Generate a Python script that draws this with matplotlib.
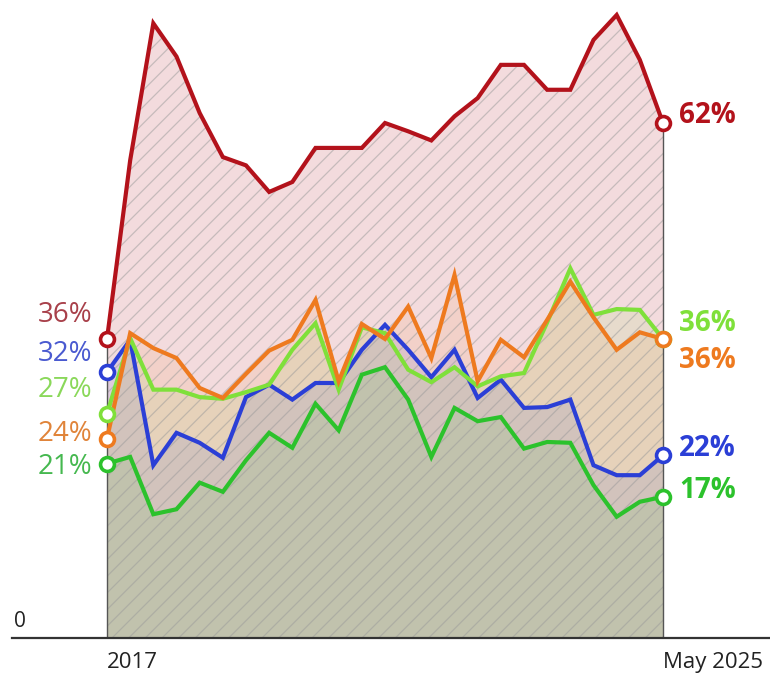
import matplotlib
matplotlib.use("Agg")
import matplotlib.pyplot as plt
import numpy as np

plt.rcParams["font.family"] = ["Open Sans", "DejaVu Sans"]
plt.rcParams["hatch.color"] = "#9a9a9a"
plt.rcParams["hatch.linewidth"] = 0.9

# survey readings, 2017 .. May 2025 (25 readings)
n_points = 25
red = [36, 57.5, 74, 70, 63.2, 57.9, 56.9, 53.7, 54.9, 59, 59, 59, 62, 61, 59.9,
       62.8, 65, 69, 69, 66, 66, 72, 75, 69.6, 62]
orange = [24, 36.7, 34.9, 33.7, 30.1, 28.9, 31.8, 34.6, 35.9, 40.7, 30.9, 37.8, 36,
          39.9, 33.7, 43.7, 30.9, 35.9, 33.8, 38.3, 42.9, 38.6, 34.7, 36.8, 36]
lime = [27, 36.1, 29.9, 29.9, 29.0, 28.8, 29.6, 30.5, 34.7, 37.9, 29.9, 37.4, 36.7,
        32.3, 30.8, 32.6, 30.3, 31.5, 31.9, 38.0, 44.5, 38.9, 39.6, 39.5, 36]
blue = [32, 35.9, 20.8, 24.7, 23.5, 21.7, 29.0, 30.5, 28.7, 30.7, 30.7, 34.7, 37.7,
        34.7, 31.4, 34.7, 28.9, 31.1, 27.7, 27.8, 28.7, 20.8, 19.6, 19.6, 22]
green = [21, 21.8, 14.9, 15.5, 18.7, 17.6, 21.4, 24.7, 22.9, 28.2, 25.0, 31.7, 32.6,
         28.7, 21.8, 27.7, 26.1, 26.6, 22.8, 23.6, 23.5, 18.4, 14.6, 16.4, 17]

x_labels = ["2017", "May 2025"]

series = [
    # values, line colour, left label colour, left label y offset, right offset, z
    (red, "#b3121b", "#a8404a", 2.9, 0.9, 5),
    (orange, "#ee7a1f", "#e0843a", 0.5, -2.6, 4),
    (lime, "#7fe03a", "#8ad85a", 2.9, 1.9, 3),
    (blue, "#2b3fd6", "#4a5ad0", 2.2, 0.8, 2),
    (green, "#2cc22c", "#45b84f", -0.4, 0.8, 1),
]

fig = plt.figure(figsize=(7.7, 6.82), dpi=100)
ax = fig.add_axes([0, 0, 1, 1])
px_x = 556 / 24
px_y = 515 / 62
ax.set_xlim(-107 / px_x, 24 + 107 / px_x)
ax.set_ylim(-44 / px_y, 638 / px_y)
ax.axis("off")

x = np.arange(n_points)

# shaded areas
ax.fill_between(x, 0, red, color="#b3121b", alpha=0.15, lw=0, zorder=1)
for vals, col, _, _, _, _ in series[1:]:
    ax.fill_between(x, 0, vals, color=col, alpha=0.10, lw=0, zorder=1)
ax.fill_between(x, 0, red, facecolor="none", edgecolor="#9a9a9a", hatch="//",
                lw=0, alpha=0.5, zorder=2)

ax.vlines([0, n_points - 1], 0, [red[0], red[-1]], color="#555555", lw=1.0, zorder=2)
ax.plot([-95 / px_x, 24 + 107 / px_x], [0, 0], color="#333333", lw=1.6,
        zorder=3, clip_on=False)

for vals, col, _, _, _, z in series:
    ax.plot(x, vals, color=col, lw=3.0, solid_joinstyle="miter", zorder=4 + z)
    ax.plot([0, n_points - 1], [vals[0], vals[-1]], ls="none", marker="o", ms=10,
            mfc="white", mec=col, mew=2.6, zorder=10 + z)

# end labels
left_x = -15 / px_x
right_x = 24 + 16 / px_x
for vals, col, lcol, loff, roff, _ in series:
    ax.text(left_x, vals[0] + loff, f"{vals[0]:.0f}%", color=lcol, fontsize=20,
            ha="right", va="center")
    ax.text(right_x, vals[-1] + roff, f"{vals[-1]:.0f}%", color=col, fontsize=20,
            fontweight="bold", ha="left", va="center")

ax.text(-93 / px_x, 0.7, "0", color="#222222", fontsize=15, ha="left", va="bottom")
ax.text(0, -1.7, x_labels[0], color="#222222", fontsize=16, ha="left", va="top")
ax.text(n_points - 1, -1.7, x_labels[1], color="#222222", fontsize=16, ha="left",
        va="top")

fig.savefig("out.png", dpi=100)
